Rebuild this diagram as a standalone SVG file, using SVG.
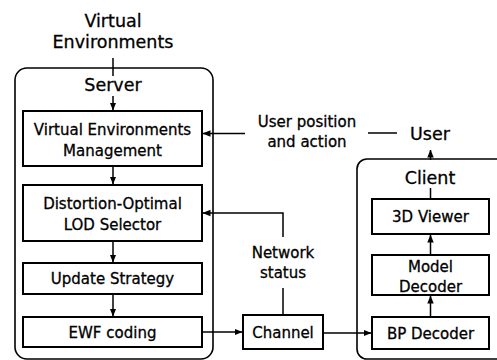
<svg xmlns="http://www.w3.org/2000/svg" width="497" height="360" viewBox="0 0 497 360">
<style>
text{font-family:"DejaVu Sans","Noto Sans",sans-serif;fill:#000;stroke:#000;stroke-width:0.3;text-anchor:middle}
.b{font-size:15px}
.t{font-size:17.5px}
.box{fill:#fff;stroke:#000;stroke-width:2}
.ctr{fill:none;stroke:#000;stroke-width:1.6}
.ln{fill:none;stroke:#000;stroke-width:1.5}
</style>
<defs>
<marker id="ah" markerUnits="userSpaceOnUse" markerWidth="8" markerHeight="8" refX="7.5" refY="4" orient="auto">
<path d="M0,0.8 L8,4 L0,7.2 Z" fill="#000"/>
</marker>
</defs>
<rect width="497" height="360" fill="#fff"/>
<g id="server-container">
<rect class="ctr" x="15" y="68" width="198" height="291" rx="12"/>
<text class="t" x="113" y="91">Server</text>
</g>
<g id="client-container">
<rect class="ctr" x="357" y="159" width="160" height="200" rx="10"/>
<text class="t" x="430" y="184">Client</text>
</g>
<g id="virtual-environments">
<text class="t" x="113" y="27">Virtual</text>
<text class="t" x="113" y="48">Environments</text>
</g>
<g id="user">
<text class="t" x="430" y="140">User</text>
</g>
<g id="vem">
<rect class="box" x="23" y="111" width="179" height="55"/>
<text class="b" x="112.5" y="134.5">Virtual Environments</text>
<text class="b" x="112.5" y="155.5">Management</text>
</g>
<g id="dols">
<rect class="box" x="23" y="185" width="179" height="56"/>
<text class="b" x="112.5" y="209">Distortion-Optimal</text>
<text class="b" x="112.5" y="230">LOD Selector</text>
</g>
<g id="update-strategy">
<rect class="box" x="23" y="263" width="179" height="31"/>
<text class="b" x="112.5" y="284">Update Strategy</text>
</g>
<g id="ewf">
<rect class="box" x="23" y="317" width="179" height="30"/>
<text class="b" x="112.5" y="338">EWF coding</text>
</g>
<g id="channel">
<rect class="box" x="243" y="315" width="80" height="34"/>
<text class="b" x="283" y="338">Channel</text>
</g>
<g id="bp-decoder">
<rect class="box" x="372" y="317" width="117" height="32"/>
<text class="b" x="430.5" y="339">BP Decoder</text>
</g>
<g id="model-decoder">
<rect class="box" x="372" y="255" width="117" height="40"/>
<text class="b" x="430.5" y="272">Model</text>
<text class="b" x="430.5" y="292">Decoder</text>
</g>
<g id="viewer">
<rect class="box" x="372" y="199" width="117" height="35"/>
<text class="b" x="430.5" y="222">3D Viewer</text>
</g>
<g id="labels">
<text class="b" x="307" y="127">User position</text>
<text class="b" x="307" y="147">and action</text>
<text class="b" x="283" y="258">Network</text>
<text class="b" x="283" y="278">status</text>
</g>
<g id="connectors">
<line class="ln" x1="113" y1="58" x2="113" y2="76"/>
<line class="ln" x1="113" y1="96" x2="113" y2="110" marker-end="url(#ah)"/>
<line class="ln" x1="113" y1="167" x2="113" y2="184" marker-end="url(#ah)"/>
<line class="ln" x1="113" y1="242" x2="113" y2="262" marker-end="url(#ah)"/>
<line class="ln" x1="113" y1="295" x2="113" y2="316" marker-end="url(#ah)"/>
<line class="ln" x1="203" y1="332" x2="242" y2="332" marker-end="url(#ah)"/>
<line class="ln" x1="324" y1="333" x2="371" y2="333" marker-end="url(#ah)"/>
<line class="ln" x1="430.5" y1="316" x2="430.5" y2="296" marker-end="url(#ah)"/>
<line class="ln" x1="430.5" y1="254" x2="430.5" y2="235" marker-end="url(#ah)"/>
<line class="ln" x1="430.5" y1="199" x2="430.5" y2="188"/>
<line class="ln" x1="430.5" y1="160" x2="430.5" y2="150" marker-end="url(#ah)"/>
<line class="ln" x1="283" y1="315" x2="283" y2="288"/>
<polyline class="ln" points="283,237 283,213 203,213" marker-end="url(#ah)"/>
<line class="ln" x1="397" y1="133" x2="368" y2="133"/>
<line class="ln" x1="245" y1="133.5" x2="203" y2="133.5" marker-end="url(#ah)"/>
</g>
</svg>
